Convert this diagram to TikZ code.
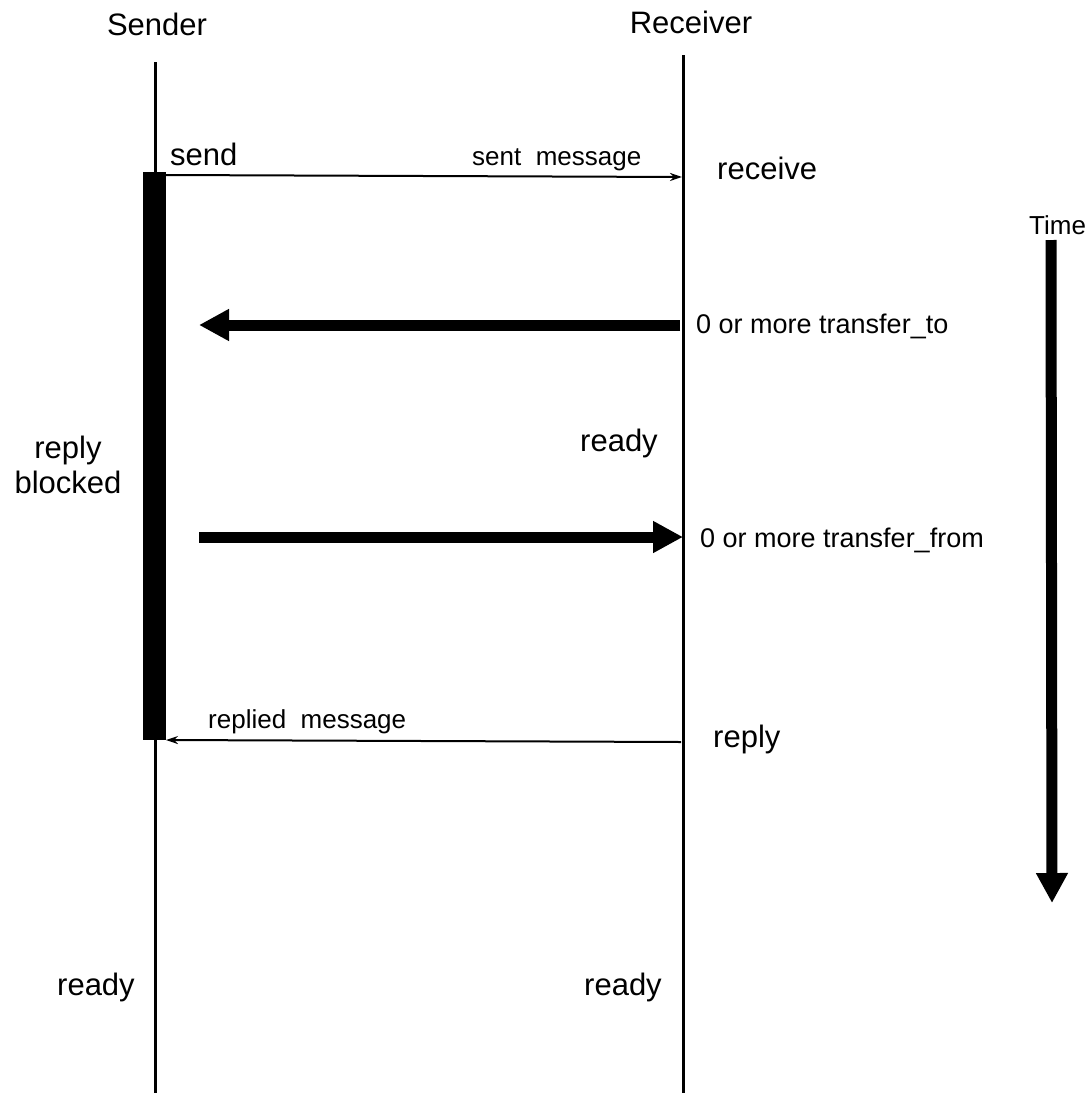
\documentclass[tikz,border=0pt]{standalone}
\usepackage{fontspec}
\setmainfont{Liberation Sans}
\usetikzlibrary{arrows.meta}

\begin{document}
\begin{tikzpicture}[x=1pt,y=-1pt,
  big/.style={inner sep=0pt,anchor=base west,font=\fontsize{31}{36}\selectfont},
  mid/.style={inner sep=0pt,anchor=base west,font=\fontsize{27}{31}\selectfont},
  small/.style={inner sep=0pt,anchor=base west,font=\fontsize{26}{30}\selectfont},
  lifeline/.style={line width=3pt},
  msg/.style={line width=2pt,-{Stealth[length=12pt,width=8pt]}},
  bulk/.style={line width=11pt,-{Triangle[length=30pt,width=30pt]}},
]
\useasboundingbox (0,0) rectangle (1086,1095);

% lifelines
\coordinate (sTop) at (155,62);
\coordinate (sBot) at (155,1093);
\coordinate (rTop) at (683,55);
\coordinate (rBot) at (683,1093);
\draw[lifeline] (sTop) -- (sBot);
\draw[lifeline] (rTop) -- (rBot);

% reply-blocked period of the sender
\node[fill=black,inner sep=0pt,minimum width=23pt,minimum height=568pt] (blocked) at (154.5,456) {};

% headings
\node[big,anchor=base] (sender) at (157,35) {Sender};
\node[big,anchor=base] (receiver) at (691,33) {Receiver};
\node[mid,font=\fontsize{26}{30}\selectfont] (time) at (1029,234) {Time};

% send / receive
\coordinate (sendA) at (166,175);
\coordinate (sendB) at (682,177);
\draw[msg] (sendA) -- (sendB);
\node[big] (send) at (170,165) {send};
\node[small] (sentmsg) at (472,165) {sent\ \ message};
\node[big] (receive) at (717,179) {receive};

% transfer_to
\coordinate (toA) at (680,325);
\coordinate (toB) at (199,325);
\draw[bulk] (toA) -- (toB);
\node[mid,anchor=west] (transferto) at (696,326) {0 or more transfer\_to};

% ready (receiver)
\node[big] (readyR1) at (580,451) {ready};

% reply blocked
\node[big,anchor=base] (replyL) at (68,458) {reply};
\node[big,anchor=base] (blockedL) at (68,493) {blocked};

% transfer_from
\coordinate (fromA) at (199,537);
\coordinate (fromB) at (683,537);
\draw[bulk] (fromA) -- (fromB);
\node[mid,anchor=west] (transferfrom) at (700,540) {0 or more transfer\_from};

% reply
\coordinate (repA) at (681,742);
\coordinate (repB) at (166,740);
\draw[msg] (repA) -- (repB);
\node[small] (repliedmsg) at (208,728) {replied\ \ message};
\node[big] (replyR) at (713,747) {reply};

% final states
\node[big] (readyS) at (57,995) {ready};
\node[big] (readyR2) at (584,995) {ready};

% time axis
\coordinate (tA) at (1051,240);
\coordinate (tB) at (1052,903);
\draw[line width=11pt,-{Triangle[length=30pt,width=30pt]}] (tA) -- (tB);
\end{tikzpicture}
\end{document}
